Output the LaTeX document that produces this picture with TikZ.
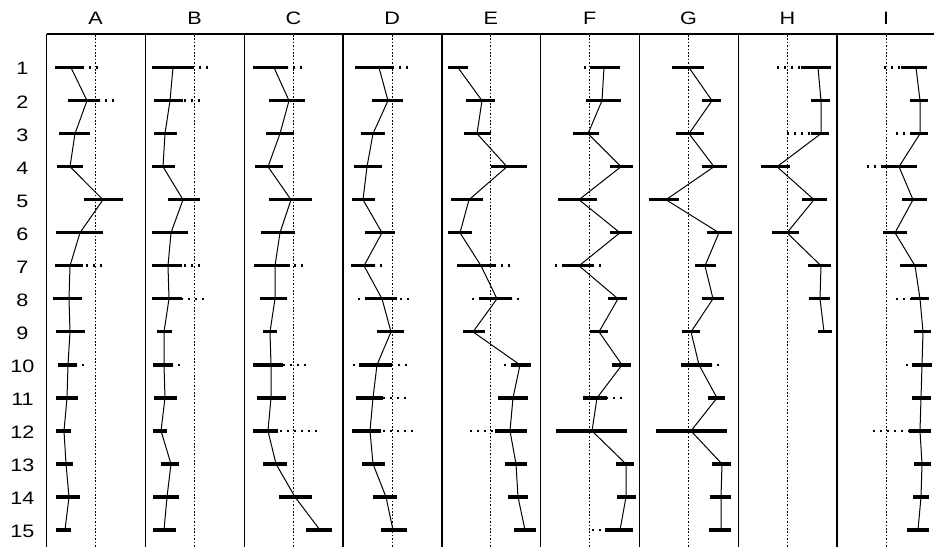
\documentclass[tikz,border=0pt]{standalone}
\usepackage{fontspec}
\setmainfont{Liberation Sans}
\usetikzlibrary{arrows.meta}

\tikzset{
  rule/.style={line width=1.5pt},
  centre/.style={line width=0.9pt,dash pattern=on 1.6pt off 1.8pt},
  errbar/.style={line width=3.3pt},
  errdots/.style={line width=2.6pt,dash pattern=on 2.4pt off 4.6pt},
  trace/.style={line width=1pt,line join=round},
  lab/.style={font=\fontsize{18}{20}\selectfont,xscale=1.2,inner sep=0pt}
}

% one profile: row/vertex/bar left/bar right/dots left/dots right
\newcommand{\profile}[3]{%
  \foreach \row/\vx/\bl/\br/\ql/\qr in {#3}{%
    \pgfmathsetmacro{\yy}{67.6+(\row-1)*33.03}
    \coordinate (#1\row) at (\vx,\yy);
    \draw[errbar] (\bl,\yy) -- (\br,\yy);
    \draw[errdots] (\ql,\yy) -- (\bl,\yy);
    \draw[errdots] (\qr,\yy) -- (\br,\yy);
  }
  \draw[trace] (#11) \foreach \k in {2,...,#2}{ -- (#1\k)};
}

\begin{document}
\begin{tikzpicture}[x=1pt,y=-1pt]
\fill[white] (0,0) rectangle (934,547);
\useasboundingbox (0,0) rectangle (934,547);

% grid
\draw[rule] (46.7,34) -- (934,34);
\foreach \i in {0,...,8}{
  \draw[rule] ({46.7+\i*98.8},34) -- ({46.7+\i*98.8},547);
  \draw[centre] ({95.7+\i*98.8},35) -- ({95.7+\i*98.8},547);
}

% labels
\foreach \c [count=\i from 0] in {A,B,C,D,E,F,G,H,I}
  \node[lab] (head\c) at ({95.7+\i*98.8},18.5) {\c};
\foreach \n in {1,...,15}
  \node[lab] (num\n) at (22.5,{68.8+(\n-1)*33.03}) {\n};

\profile{A}{15}{1/71/55/83/55/98, 2/87/68/100/68/114, 3/75/59/90/59/90,
  4/70/57/83/57/83, 5/103/84/123/84/123, 6/80/56/103/56/103,
  7/70/55/83/55/102, 8/69/53/82/53/82, 9/70/56/85/56/85,
  10/68/58/77/58/84, 11/67/56/78/56/78, 12/64/56/71/56/71,
  13/66/56/73/56/73, 14/69/56/80/56/80, 15/65/56/71/56/71}

\profile{B}{15}{1/173/152/193/152/208, 2/170/154/183/154/200, 3/165/154/177/154/177,
  4/163/152/175/152/175, 5/183/168/200/168/200, 6/171/152/188/152/188,
  7/168/152/182/152/200, 8/169/152/182/152/204, 9/164/157/172/157/172,
  10/164/153/173/153/180, 11/165/154/177/154/177, 12/161/153/167/153/167,
  13/171/161/179/161/179, 14/167/153/179/153/179, 15/164/153/176/153/176}

\profile{C}{15}{1/274/253/288/253/302, 2/289/269/305/269/305, 3/280/266/294/266/294,
  4/268/255/283/255/283, 5/291/269/312/269/312, 6/280/261/295/261/295,
  7/275/254/290/254/303, 8/275/260/287/260/287, 9/270/263/277/263/277,
  10/271/253/283/253/306, 11/271/257/286/257/286, 12/268/253/278/253/317,
  13/276/263/287/263/287, 14/295/279/312/279/312, 15/320/306/332/306/332}

\profile{D}{15}{1/379/355/393/355/408, 2/388/372/403/372/403, 3/373/361/385/361/385,
  4/367/354/382/354/382, 5/363/352/375/352/375, 6/382/365/395/365/395,
  7/364/351/375/351/382, 8/382/365/397/358/409, 9/391/377/404/377/404,
  10/377/359/392/353/407, 11/373/356/383/356/406, 12/370/352/381/352/413,
  13/373/362/385/362/385, 14/386/373/397/373/397, 15/393/381/407/381/407}

\profile{E}{15}{1/458/448/468/448/468, 2/482/466/495/466/495, 3/477/464/491/464/491,
  4/507/491/527/491/527, 5/469/451/483/451/483, 6/460/448/472/448/472,
  7/481/457/495/457/510, 8/497/479/512/472/519, 9/473/463/485/463/485,
  10/520/511/531/504/531, 11/513/498/528/498/528, 12/510/495/527/470/527,
  13/516/505/527/505/527, 14/518/508/528/508/528, 15/525/514/536/514/536}

\profile{F}{15}{1/604/590/620/584/620, 2/602/586/621/586/621, 3/588/573/599/573/599,
  4/621/610/633/610/633, 5/579/558/597/558/597, 6/620/610/632/610/632,
  7/579/562/593/555/601, 8/618/608/627/608/627, 9/599/590/608/590/608,
  10/622/612/631/612/631, 11/597/583/607/583/622, 12/592/556/627/556/627,
  13/626/616/634/616/634, 14/626/617/636/617/636, 15/620/605/633/592/633}

\profile{G}{15}{1/689/672/704/672/704, 2/712/702/721/702/721, 3/689/676/704/676/704,
  4/714/702/727/702/727, 5/666/649/679/649/679, 6/719/707/732/707/732,
  7/705/695/716/695/716, 8/713/702/724/702/724, 9/691/682/700/682/700,
  10/699/681/712/681/719, 11/717/708/725/708/725, 12/691/656/727/656/727,
  13/722/712/731/712/731, 14/721/710/731/710/731, 15/721/709/731/709/731}

\profile{H}{9}{1/818/801/831/777/831, 2/821/811/830/811/830, 3/821/811/829/787/829,
  4/777/761/790/761/790, 5/814/802/827/802/827, 6/787/772/799/772/799,
  7/821/808/831/808/831, 8/820/809/830/809/830, 9/824/818/832/818/832}

\profile{I}{15}{1/916/901/927/884/927, 2/920/910/928/910/928, 3/920/912/928/896/928,
  4/899/881/917/867/917, 5/913/902/927/902/927, 6/895/883/907/883/907,
  7/915/900/927/900/927, 8/920/911/929/896/929, 9/923/914/931/914/931,
  10/922/912/932/906/932, 11/921/912/931/912/931, 12/920/909/931/873/931,
  13/922/914/931/914/931, 14/921/913/929/913/929, 15/918/907/929/907/929}
\end{tikzpicture}
\end{document}
